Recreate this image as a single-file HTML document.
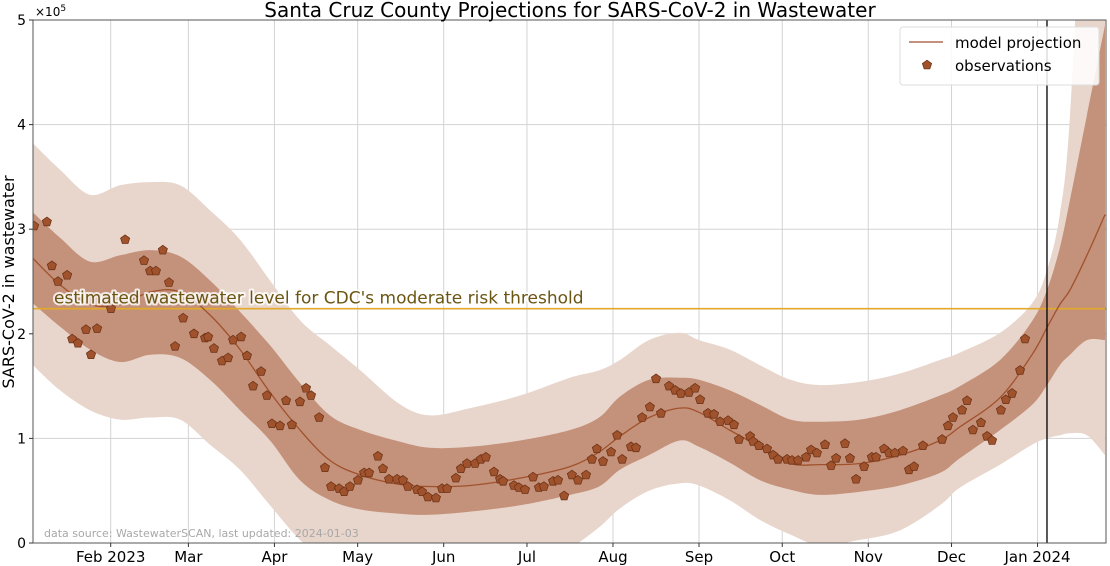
<!DOCTYPE html>
<html><head><meta charset="utf-8"><style>
html,body{margin:0;padding:0;background:#fff;width:1110px;height:566px;overflow:hidden;}
svg{display:block;font-family:"DejaVu Sans","Liberation Sans",sans-serif;}
</style></head><body>
<svg id="chart" width="1110" height="566" viewBox="0 0 1110 566" xmlns="http://www.w3.org/2000/svg"></svg>
<script>
// ---- data (days since 2023-01-03, values in units of 1e5) ----
const tickDays = [28, 56, 87, 117, 148, 178, 209, 240, 270, 301, 331, 362];
const tickLabels = ["Feb 2023","Mar","Apr","May","Jun","Jul","Aug","Sep","Oct","Nov","Dec","Jan 2024"];
const yTicks = [0,1,2,3,4,5];
const modelDays = [0,9.7,20.5,31.4,42.2,53,63.8,74.6,85.4,96.2,107,118,132,143,157.5,175.5,193.5,204,211.5,222,233,240,251,262,273,283.6,298,312.4,326.8,334,348.5,360,365.4,370,373.7,379.8,386.3];
const modelMed = [2.72,2.47,2.28,2.28,2.40,2.40,2.18,1.85,1.44,1.08,0.79,0.65,0.56,0.54,0.55,0.62,0.73,0.87,1.02,1.20,1.29,1.25,1.08,0.92,0.76,0.75,0.76,0.84,0.98,1.11,1.39,1.80,2.06,2.28,2.42,2.75,3.14];
const band50Lo = [2.29,2.07,1.85,1.73,1.80,1.77,1.56,1.27,0.98,0.60,0.41,0.32,0.28,0.27,0.30,0.36,0.46,0.54,0.70,0.84,0.98,0.92,0.77,0.60,0.51,0.46,0.49,0.55,0.67,0.81,1.08,1.32,1.51,1.70,1.80,1.94,1.94];
const band50Hi = [3.16,2.92,2.69,2.75,2.80,2.74,2.51,2.21,1.89,1.53,1.22,1.08,0.97,0.91,0.92,0.98,1.08,1.20,1.40,1.56,1.58,1.56,1.46,1.32,1.18,1.16,1.18,1.27,1.41,1.50,1.75,2.12,2.42,2.82,3.28,4.09,4.95];
const band90Lo = [1.70,1.46,1.27,1.18,1.20,1.18,0.94,0.70,0.36,0.03,-0.2,-0.35,-0.45,-0.5,-0.45,-0.3,-0.05,0.15,0.33,0.50,0.57,0.55,0.41,0.22,0.08,-0.02,0.03,0.12,0.36,0.53,0.75,0.94,1.00,1.03,1.05,1.03,0.84];
const band90Hi = [3.82,3.57,3.33,3.42,3.45,3.42,3.18,2.90,2.51,2.13,1.89,1.65,1.33,1.22,1.29,1.41,1.58,1.65,1.75,1.94,2.01,1.94,1.85,1.70,1.56,1.51,1.54,1.62,1.75,1.82,2.01,2.29,2.61,3.14,4.09,7.1,9];
const obsDays = [0.4,5.0,6.8,9.0,12.3,14.1,16.2,19.1,20.9,23.1,28.1,33.2,40.0,42.2,44.3,46.8,49.0,51.2,54.1,58.0,62.0,63.1,65.2,68.1,70.3,72.1,75.0,77.1,79.3,82.2,84.3,86.1,89.0,91.2,93.3,96.2,98.4,100.2,103.1,105.2,107.4,110.3,112.1,114.2,117.1,119.3,121.1,124.3,126.1,128.3,131.2,133.3,135.1,138.4,140.2,142.3,145.2,147.4,149.2,152.4,154.2,156.4,159.3,161.4,163.2,166.1,168.3,169.4,173.3,175.1,177.3,180.2,182.3,184.1,187.4,189.2,191.4,194.2,196.4,199.3,201.4,203.2,205.4,208.3,210.5,212.3,215.5,217.3,219.5,222.3,224.5,226.3,229.2,231.4,233.5,236.4,238.6,240.4,243.2,245.4,247.6,250.5,252.6,254.4,258.4,259.5,261.6,264.5,266.7,268.5,271.7,273.5,275.7,278.6,280.4,282.5,285.4,287.6,289.4,292.6,294.4,296.6,299.5,302.3,303.8,306.7,308.5,310.6,313.5,315.7,317.5,320.7,327.6,329.7,331.5,334.8,336.6,338.7,341.6,343.8,345.6,348.8,350.6,352.8,355.7,357.5];
const obsVals = [3.03,3.07,2.65,2.50,2.56,1.95,1.91,2.04,1.80,2.05,2.24,2.90,2.70,2.60,2.60,2.80,2.49,1.88,2.15,2.00,1.96,1.97,1.86,1.74,1.77,1.94,1.97,1.79,1.50,1.64,1.41,1.14,1.12,1.36,1.13,1.35,1.48,1.41,1.20,0.72,0.54,0.52,0.49,0.54,0.60,0.67,0.67,0.83,0.71,0.61,0.61,0.60,0.54,0.51,0.49,0.44,0.43,0.52,0.52,0.62,0.71,0.76,0.76,0.80,0.82,0.68,0.61,0.59,0.55,0.53,0.51,0.63,0.53,0.54,0.59,0.60,0.45,0.65,0.60,0.65,0.80,0.90,0.78,0.87,1.03,0.80,0.92,0.91,1.20,1.30,1.57,1.24,1.50,1.46,1.43,1.44,1.48,1.37,1.24,1.23,1.16,1.17,1.13,0.99,1.02,0.97,0.93,0.90,0.84,0.80,0.80,0.79,0.79,0.82,0.89,0.86,0.94,0.74,0.81,0.95,0.81,0.61,0.73,0.82,0.82,0.90,0.86,0.86,0.88,0.70,0.73,0.93,0.99,1.12,1.20,1.27,1.36,1.08,1.15,1.02,0.98,1.27,1.37,1.43,1.65,1.95];
const thresholdVal = 2.24;
const todayDay = 365.4;

// ---- axes ----
const L=33,R=1106,T=20,B=543, DAY_PX=2.775, YMAX=5;
const xs = d => L + d*DAY_PX;
const ys = v => B - (v/YMAX)*(B-T);
const NS="http://www.w3.org/2000/svg";
const svg=document.getElementById('chart');
function mk(tag, attrs, parent){const e=document.createElementNS(NS,tag);for(const k in attrs)e.setAttribute(k,attrs[k]);(parent||svg).appendChild(e);return e;}

function smoothSeg(pts){
  let s='';
  for(let i=0;i<pts.length-1;i++){
    const p0=pts[Math.max(0,i-1)],p1=pts[i],p2=pts[i+1],p3=pts[Math.min(pts.length-1,i+2)];
    const c1x=p1[0]+(p2[0]-p0[0])/6,c1y=p1[1]+(p2[1]-p0[1])/6;
    const c2x=p2[0]-(p3[0]-p1[0])/6,c2y=p2[1]-(p3[1]-p1[1])/6;
    s+=' C'+c1x.toFixed(1)+','+c1y.toFixed(1)+' '+c2x.toFixed(1)+','+c2y.toFixed(1)+' '+p2[0].toFixed(1)+','+p2[1].toFixed(1);
  }
  return s;
}

const defs=mk('defs',{});
const cp=mk('clipPath',{id:'plotclip'},defs);
mk('rect',{x:L,y:T,width:R-L,height:B-T},cp);

const grid=mk('g',{});


tickDays.forEach(d=>mk('line',{x1:xs(d),x2:xs(d),y1:T,y2:B,stroke:'#d3d3d3','stroke-width':1},grid));
yTicks.forEach(v=>mk('line',{x1:L,x2:R,y1:ys(v),y2:ys(v),stroke:'#d3d3d3','stroke-width':1},grid));

const plot=mk('g',{'clip-path':'url(#plotclip)'});
function bandPath(lo,hi){
  const top=modelDays.map((d,i)=>[xs(d),ys(hi[i])]);
  const bot=modelDays.map((d,i)=>[xs(d),ys(lo[i])]).reverse();
  return 'M'+top[0][0].toFixed(1)+','+top[0][1].toFixed(1)+smoothSeg(top)+' L'+bot[0][0].toFixed(1)+','+bot[0][1].toFixed(1)+smoothSeg(bot)+'Z';
}
const b90=mk('path',{d:bandPath(band90Lo,band90Hi),fill:'#e8d6cc'},plot);


const b50=mk('path',{d:bandPath(band50Lo,band50Hi),fill:'#c4917a'},plot);



const th=mk('line',{x1:L,x2:R,y1:ys(thresholdVal),y2:ys(thresholdVal),stroke:'#e2a92a','stroke-width':1.6},plot);



const medPts=modelDays.map((d,i)=>[xs(d),ys(modelMed[i])]);
const med=mk('path',{d:'M'+medPts[0][0]+','+medPts[0][1].toFixed(1)+smoothSeg(medPts),fill:'none',stroke:'#a0522d','stroke-width':1.3},plot);



function pent(cx,cy,r){let p=[];for(let k=0;k<5;k++){const a=-Math.PI/2+k*2*Math.PI/5;p.push((cx+r*Math.cos(a)).toFixed(1)+','+(cy+r*Math.sin(a)).toFixed(1));}return p.join(' ');}
const obsG=mk('g',{},plot);


obsDays.forEach((d,i)=>{
  const m=mk('polygon',{points:pent(xs(d),ys(obsVals[i]),4.8),fill:'#a0522d',stroke:'#6e3417','stroke-width':0.8},obsG);
  
  
});

const tl=mk('line',{x1:xs(todayDay),x2:xs(todayDay),y1:T,y2:B,stroke:'#000','stroke-width':1.3},plot);



const ann=mk('text',{x:54,y:ys(thresholdVal)-5,'font-size':17,fill:'#6b5512',stroke:'#fff','stroke-width':4,'stroke-opacity':0.8,'paint-order':'stroke','stroke-linejoin':'round'});
ann.textContent="estimated wastewater level for CDC's moderate risk threshold";



const src=mk('text',{x:44,y:537,'font-size':11,fill:'#a8a8a8'});
src.textContent='data source: WastewaterSCAN, last updated: 2024-01-03';



const fr=mk('rect',{x:L,y:T,width:R-L,height:B-T,fill:'none',stroke:'#555','stroke-width':1});



const xt=mk('g',{'font-size':15,fill:'#000','text-anchor':'middle'});


tickDays.forEach((d,i)=>{
  mk('line',{x1:xs(d),x2:xs(d),y1:B,y2:B+4,stroke:'#333'},xt);
  const t=mk('text',{x:xs(d),y:B+19},xt);t.textContent=tickLabels[i];
  
  
});
const yt=mk('g',{'font-size':14,fill:'#000','text-anchor':'end'});


yTicks.forEach(v=>{
  mk('line',{x1:L-4,x2:L,y1:ys(v),y2:ys(v),stroke:'#333'},yt);
  const t=mk('text',{x:L-7,y:ys(v)+5},yt);t.textContent=v;
  
  
});
const mult=mk('text',{x:35,y:16,'font-size':12});
mult.innerHTML='×10<tspan dy="-5" font-size="9">5</tspan>';


const yl=mk('text',{x:14,y:282,'font-size':16,'text-anchor':'middle',transform:'rotate(-90 14 282)'});
yl.textContent='SARS-CoV-2 in wastewater';


const ti=mk('text',{x:570,y:17,'font-size':20,'text-anchor':'middle'});
ti.textContent='Santa Cruz County Projections for SARS-CoV-2 in Wastewater';



const lg=mk('g',{});


mk('rect',{x:900,y:27,width:199,height:58,rx:3,fill:'#fff','fill-opacity':0.85,stroke:'#ddd'},lg);
mk('line',{x1:909,x2:943,y1:42,y2:42,stroke:'#a0522d','stroke-width':1.3},lg);
const l1=mk('text',{x:955,y:48,'font-size':15},lg);l1.textContent='model projection';


mk('polygon',{points:pent(927,65,4.8),fill:'#a0522d',stroke:'#6e3417','stroke-width':0.8},lg);
const l2=mk('text',{x:955,y:71,'font-size':15},lg);l2.textContent='observations';


</script>
</body></html>
